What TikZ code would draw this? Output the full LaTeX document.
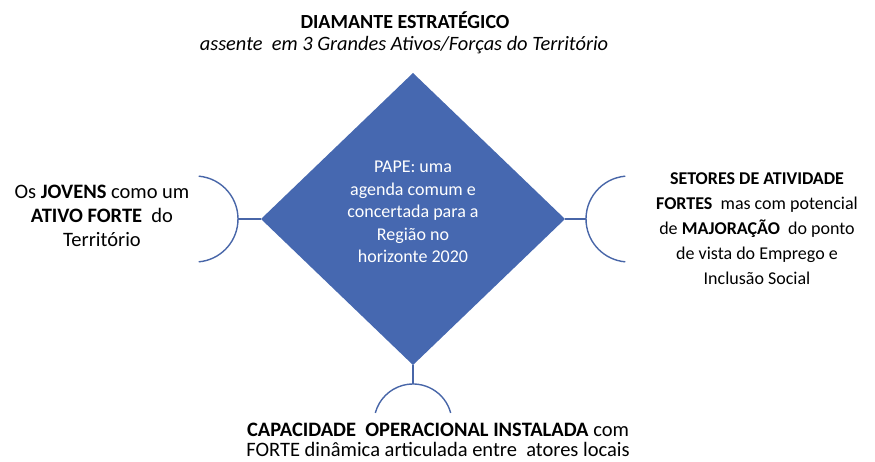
\documentclass[tikz,border=0pt]{standalone}
\usepackage{fontspec}
\setmainfont{Carlito}
\usetikzlibrary{shapes.geometric}
\definecolor{papeBlue}{RGB}{70,104,176}
\definecolor{linkBlue}{RGB}{72,102,168}
\tikzset{
  txt/.style={inner sep=0pt, outer sep=0pt, align=center, text=black},
  link/.style={draw=linkBlue, line width=1.4pt},
}
\begin{document}
\begin{tikzpicture}[x=1pt,y=1pt]
\useasboundingbox (0,0) rectangle (875,461);

% titulo
\node[txt, font=\fontsize{20}{24}\selectfont\bfseries] (titulo) at (405,441) {DIAMANTE ESTRATÉGICO};
\node[txt, font=\fontsize{20.4}{24}\selectfont\itshape] (subtitulo) at (404,416) {assente\ \ em 3 Grandes Ativos/Forças do Território};

% diamante central
\node[diamond, fill=papeBlue, minimum width=304pt, minimum height=292pt, inner sep=0pt, outer sep=0pt] (pape) at (413,242) {};
\node[txt, text=white, font=\fontsize{18}{22.5}\selectfont] (papetxt) at ([yshift=7pt]pape.center) {PAPE: uma\\agenda comum e\\concertada para a\\Região no\\horizonte 2020};

% pontos das ligacoes
\coordinate (jcentro) at (195,242);
\coordinate (jponta) at (238,242);
\coordinate (scentro) at (629,242);
\coordinate (sponta) at (586,242);
\coordinate (ccentro) at (413,38);
\coordinate (cponta) at (413,77);

\draw[link] (pape.west) -- (jponta);
\draw[link] ([shift={(85:43)}]jcentro) arc[start angle=85, end angle=-85, radius=43];
\draw[link] (pape.east) -- (sponta);
\draw[link] ([shift={(95:43)}]scentro) arc[start angle=95, end angle=265, radius=43];
\draw[link] (pape.south) -- (cponta);
\draw[link] ([shift={(15:39)}]ccentro) arc[start angle=15, end angle=165, radius=39];

% textos dos ativos
\node[txt, font=\fontsize{20.5}{24}\selectfont] (jovens) at (102,245) {Os \textbf{JOVENS} como um\\\textbf{ATIVO FORTE}\ \ do\\Território};
\node[txt, font=\fontsize{18}{25}\selectfont] (setores) at (757,232) {\textbf{SETORES DE ATIVIDADE}\\\textbf{FORTES}\ \ mas com potencial\\de \textbf{MAJORAÇÃO}\ \ do ponto\\de vista do Emprego e\\Inclusão Social};
\node[txt, font=\fontsize{20.5}{20}\selectfont] (capacidade) at (438,21) {\textbf{CAPACIDADE\ \ OPERACIONAL INSTALADA} com\\FORTE dinâmica articulada entre\ \ atores locais};
\end{tikzpicture}
\end{document}
